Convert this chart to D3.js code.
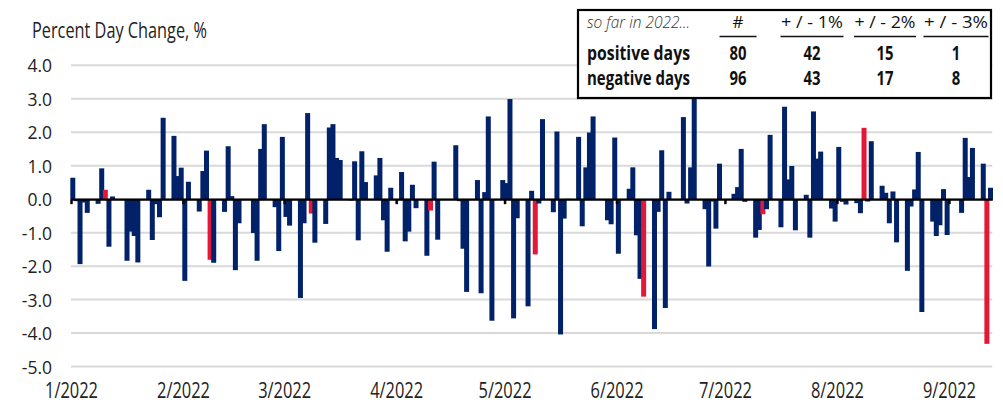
<!DOCTYPE html>
<html><head><meta charset="utf-8">
<script src="https://cdn.jsdelivr.net/npm/d3@7"></script>
<style>
html,body{margin:0;padding:0;background:#fff;}
svg{display:block;font-family:"Open Sans",sans-serif;}
</style>
</head><body>
<svg id="chart" width="1003" height="410"></svg>
<script>
// ---------------- DATA ----------------
const tradingDays = [
"01-03","01-04","01-05","01-06","01-07","01-10","01-11","01-12","01-13","01-14","01-18","01-19","01-20","01-21","01-24","01-25","01-26","01-27","01-28","01-31",
"02-01","02-02","02-03","02-04","02-07","02-08","02-09","02-10","02-11","02-14","02-15","02-16","02-17","02-18","02-22","02-23","02-24","02-25","02-28",
"03-01","03-02","03-03","03-04","03-07","03-08","03-09","03-10","03-11","03-14","03-15","03-16","03-17","03-18","03-21","03-22","03-23","03-24","03-25","03-28","03-29","03-30","03-31",
"04-01","04-04","04-05","04-06","04-07","04-08","04-11","04-12","04-13","04-14","04-18","04-19","04-20","04-21","04-22","04-25","04-26","04-27","04-28","04-29",
"05-02","05-03","05-04","05-05","05-06","05-09","05-10","05-11","05-12","05-13","05-16","05-17","05-18","05-19","05-20","05-23","05-24","05-25","05-26","05-27","05-31",
"06-01","06-02","06-03","06-06","06-07","06-08","06-09","06-10","06-13","06-14","06-15","06-16","06-17","06-21","06-22","06-23","06-24","06-27","06-28","06-29","06-30",
"07-01","07-05","07-06","07-07","07-08","07-11","07-12","07-13","07-14","07-15","07-18","07-19","07-20","07-21","07-22","07-25","07-26","07-27","07-28","07-29",
"08-01","08-02","08-03","08-04","08-05","08-08","08-09","08-10","08-11","08-12","08-15","08-16","08-17","08-18","08-19","08-22","08-23","08-24","08-25","08-26","08-29","08-30","08-31",
"09-01","09-02","09-06","09-07","09-08","09-09","09-12","09-13","09-14"
];
const pctChange = [
0.64,-0.06,-1.94,-0.10,-0.41,-0.14,0.92,0.28,-1.42,0.08,-1.84,-0.97,-1.10,-1.89,0.28,-1.22,-0.15,-0.54,2.43,1.89,
0.69,0.94,-2.44,0.52,-0.37,0.84,1.45,-1.81,-1.90,-0.38,1.58,0.09,-2.12,-0.72,-1.01,-1.84,1.50,2.24,-0.24,
-1.55,1.86,-0.53,-0.79,-2.95,-0.72,2.57,-0.43,-1.30,-0.74,2.14,2.24,1.23,1.17,-0.04,1.13,-1.23,1.43,0.51,0.71,1.23,-0.63,-1.57,
0.34,0.81,-1.26,-0.97,0.43,-0.27,-1.69,-0.34,1.12,-1.21,-0.02,1.61,-0.06,-1.48,-2.77,0.57,-2.81,0.21,2.47,-3.63,
0.57,0.48,2.99,-3.56,-0.57,-3.20,0.25,-1.65,-0.13,2.39,-0.39,2.02,-4.04,-0.58,0.01,1.86,-0.81,0.95,1.99,2.47,-0.63,
-0.75,1.84,-1.63,0.31,0.95,-1.08,-2.38,-2.91,-3.88,-0.38,1.46,-3.25,0.22,2.45,-0.13,0.95,3.06,-0.30,-2.01,-0.07,-0.88,
1.06,0.16,0.36,1.50,-0.08,-1.15,-0.92,-0.45,-0.30,1.92,-0.84,2.76,0.59,0.99,-0.93,0.13,-1.15,2.62,1.21,1.42,
-0.28,-0.67,1.56,-0.08,-0.16,-0.12,-0.42,2.13,-0.07,1.73,0.40,0.19,-0.72,0.23,-1.29,-2.14,-0.22,0.29,1.41,-3.37,-0.67,-1.10,-0.78,
0.30,-1.07,-0.41,1.83,0.66,1.53,1.06,-4.32,0.34
];
const cpiDays = ["01-12","02-10","03-10","04-12","05-11","06-10","07-13","08-10","09-13"];
const yTicks = [4,3,2,1,0,-1,-2,-3,-4,-5];
const monthTicks = ["01-03","02-03","03-03","04-03","05-03","06-03","07-03","08-03","09-03"];
const monthLabels = ["1/2022","2/2022","3/2022","4/2022","5/2022","6/2022","7/2022","8/2022","9/2022"];
const tableHeader = ["so far in 2022...","#","+ / - 1%","+ / - 2%","+ / - 3%"];
const positiveRow = ["positive days","80","42","15","1"];
const negativeRow = ["negative days","96","43","17","8"];
const titleText = "Percent Day Change, %";

// ---------------- CHART ----------------
const NAVY = "#012169", RED = "#e31837", GRID = "#d9d9d9", TXT = "#222";
const svg = d3.select("#chart");
const toDate = md => d3.utcParse("%Y-%m-%d")("2022-" + md);

const x = d3.scaleUtc()
  .domain([toDate("01-03"), toDate("09-15")])
  .range([71, 992.3]);
const y = d3.scaleLinear().domain([-5, 4]).range([366.6, 65.2]);
const dayW = x(toDate("01-04")) - x(toDate("01-03"));

const data = tradingDays.map((d, i) => ({date: toDate(d), md: d, v: pctChange[i], cpi: cpiDays.includes(d)}));

// gridlines
svg.append("g").selectAll("line").data(yTicks).join("line")
  .attr("x1", 71).attr("x2", 992.3)
  .attr("y1", d => y(d)).attr("y2", d => y(d))
  .attr("stroke", GRID).attr("stroke-width", 2);

// y labels
const yAxis = svg.append("g").attr("transform", "translate(52,0)")
  .call(d3.axisLeft(y).tickValues(yTicks).tickSize(0).tickPadding(0).tickFormat(d => d.toFixed(1)));
yAxis.select(".domain").remove();
yAxis.selectAll("text").attr("font-size", 17.5).attr("fill", TXT)
  .attr("font-family", "'Open Sans',sans-serif").attr("dy", "0.37em");

// bars
const barW = 5;
svg.append("g").selectAll("rect").data(data).join("rect")
  .attr("x", d => x(d.date) + dayW / 2 - barW / 2)
  .attr("width", barW)
  .attr("y", d => Math.min(y(0), y(d.v)))
  .attr("height", d => Math.abs(y(d.v) - y(0)))
  .attr("fill", d => d.cpi ? RED : NAVY);

// zero axis with month ticks
const zAxis = svg.append("g").attr("transform", `translate(0,${y(0)})`)
  .call(d3.axisBottom(x).tickValues(monthTicks.map(toDate)).tickSize(5).tickSizeOuter(0).tickFormat(""));
zAxis.select(".domain").attr("stroke", "#000").attr("stroke-width", 2.2);
zAxis.selectAll(".tick line").attr("stroke", "#000").attr("stroke-width", 2.5);

// x labels
const xLab = svg.append("g").attr("transform", "translate(0,398)")
  .call(d3.axisBottom(x).tickValues(monthTicks.map(toDate)).tickSize(0).tickPadding(0)
    .tickFormat((d, i) => monthLabels[i]));
xLab.select(".domain").remove();
xLab.selectAll("text").attr("y", 0).attr("dy", null)
  .attr("font-size", 21.5).attr("fill", TXT).attr("font-family", "'Open Sans',sans-serif")
  .attr("textLength", 53).attr("lengthAdjust", "spacingAndGlyphs");

// title
svg.append("text").attr("x", 32).attr("y", 38).text(titleText)
  .attr("font-size", 21).attr("fill", TXT)
  .attr("textLength", 175).attr("lengthAdjust", "spacingAndGlyphs");

// ---------------- TABLE ----------------
const tbl = svg.append("g");
tbl.append("rect").attr("x", 578).attr("y", 10).attr("width", 413).attr("height", 88)
  .attr("fill", "#fff").attr("stroke", "#000").attr("stroke-width", 2.2);
const colX = [587, 738, 812, 885, 956];
const ulW = [0, 37, 63, 62, 65];
const hdrW = [103, 0, 62, 61, 64];
tableHeader.forEach((t, i) => {
  const el = tbl.append("text").attr("x", colX[i]).attr("y", 28).text(t)
    .attr("font-size", 17).attr("fill", i === 0 ? "#333" : "#111")
    .attr("text-anchor", i === 0 ? "start" : "middle");
  if (i === 0) el.attr("font-style", "italic").attr("font-weight", 300);
  if (hdrW[i]) el.attr("textLength", hdrW[i]).attr("lengthAdjust", "spacingAndGlyphs");
  if (i > 0) tbl.append("line").attr("x1", colX[i] - ulW[i] / 2).attr("x2", colX[i] + ulW[i] / 2)
    .attr("y1", 36.5).attr("y2", 36.5).attr("stroke", "#111").attr("stroke-width", 1.3);
});
[[positiveRow, 60], [negativeRow, 85]].forEach(([row, yy]) => {
  row.forEach((t, i) => {
    tbl.append("text").attr("x", colX[i]).attr("y", yy).text(t)
      .attr("font-size", 20).attr("font-weight", 700).attr("fill", "#111")
      .attr("text-anchor", i === 0 ? "start" : "middle")
      .attr("textLength", i === 0 ? 103 : (t.length === 2 ? 17 : 8.5))
      .attr("lengthAdjust", "spacingAndGlyphs");
  });
});
</script>
</body></html>
